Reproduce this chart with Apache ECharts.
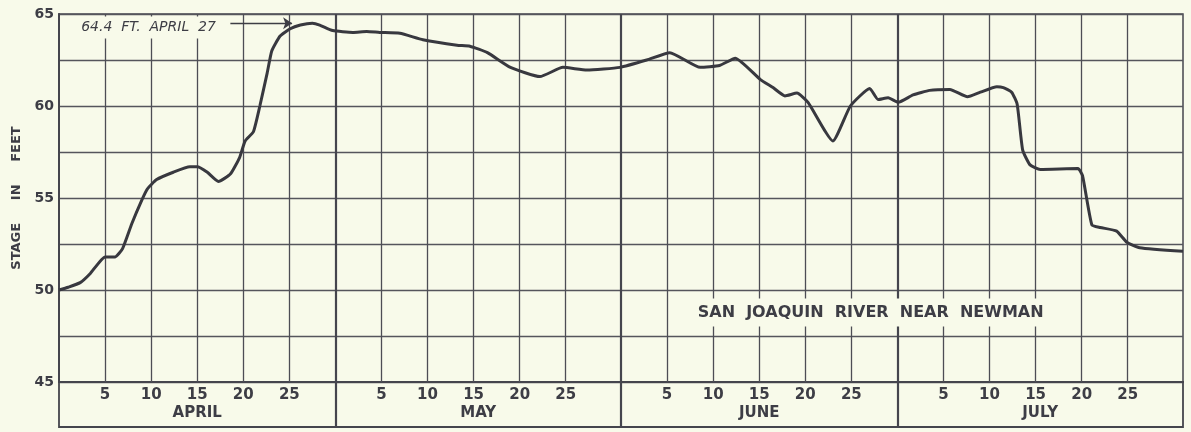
<!DOCTYPE html>
<html><head><meta charset="utf-8">
<script src="https://cdn.jsdelivr.net/npm/echarts@6/dist/echarts.min.js"></script>
<style>html,body{margin:0;padding:0;background:#f8faea}#c{width:1191px;height:432px}</style>
</head><body><div id="c"></div>
<script>
// ---- data ----
const monthNames = ['APRIL', 'MAY', 'JUNE', 'JULY'];
const monthStarts = [0, 30, 61, 91];
const monthLengths = [30, 31, 30, 31];
const dayTickLabels = [5, 10, 15, 20, 25];
const yTickLabels = [45, 50, 55, 60, 65];
const peakNote = '64.4  FT.  APRIL  27';
const stationName = 'SAN  JOAQUIN  RIVER  NEAR  NEWMAN';
const yTitle = 'STAGE     IN     FEET';

// day index counted from March 31 (April 1 = 1), stage in feet
const days = [0.0, 1.0, 2.3, 3.4, 5.0, 6.1, 6.9, 7.9, 9.0, 9.6, 10.6, 12.4, 14.2, 15.0, 16.1, 17.3, 18.6, 19.6, 20.2, 21.1,
  21.8, 22.6, 23.1, 24.0, 25.1, 26.2, 27.5, 28.3, 29.7, 31.9, 33.4, 34.8, 37.0, 39.5, 43.2, 44.6, 46.5, 49.0, 52.2, 54.7,
  57.3, 60.9, 63.8, 66.3, 69.6, 71.7, 73.4, 76.1, 77.5, 78.8, 80.1, 81.3, 84.0, 85.9, 88.0, 88.9, 90.0, 91.1, 92.7, 94.5,
  96.7, 98.6, 100.0, 101.8, 102.5, 103.4, 104.0, 104.6, 105.4, 106.5, 110.6, 111.1, 112.1, 113.0, 114.8, 115.9, 117.3, 122.0];
const stage = [50.0, 50.15, 50.4, 50.9, 51.8, 51.8, 52.25, 53.6, 54.9, 55.5, 56.0, 56.4, 56.7, 56.7, 56.4, 55.9, 56.3, 57.2, 58.1, 58.6,
  60.0, 61.8, 63.0, 63.8, 64.2, 64.4, 64.5, 64.4, 64.1, 64.0, 64.05, 64.0, 63.95, 63.6, 63.3, 63.25, 62.9, 62.1, 61.6, 62.1,
  61.95, 62.1, 62.5, 62.9, 62.1, 62.2, 62.6, 61.45, 61.0, 60.55, 60.7, 60.2, 58.1, 60.0, 60.95, 60.35, 60.45, 60.2, 60.6, 60.85,
  60.9, 60.5, 60.75, 61.05, 61.0, 60.75, 60.1, 57.6, 56.8, 56.55, 56.6, 56.2, 53.55, 53.4, 53.2, 52.6, 52.3, 52.1];

// ---- derived ----
const xMax = monthStarts[monthStarts.length - 1] + monthLengths[monthLengths.length - 1];
const tickPos = [], tickLab = {};
monthStarts.forEach(s => dayTickLabels.forEach(d => { tickPos.push(s + d); tickLab[s + d] = String(d); }));
const monthCenters = monthStarts.map((s, i) => s + monthLengths[i] / 2);
const monthLab = {};
monthCenters.forEach((c, i) => { monthLab[c] = monthNames[i]; });
const curve = days.map((d, i) => [d, stage[i]]);

const BG = '#f8faea', INK = '#45454d', FONT = 'DejaVu Sans';
const chart = echarts.init(document.getElementById('c'), null, { renderer: 'canvas' });
chart.setOption({
  backgroundColor: BG,
  animation: false,
  grid: [
    { left: 59, right: 8, top: 14, height: 368, show: true, borderColor: INK, borderWidth: 1.5, backgroundColor: 'transparent' },
    { left: 59, right: 8, top: 382, height: 45, show: true, borderColor: INK, borderWidth: 1.8, backgroundColor: 'transparent' }
  ],
  xAxis: [
    { type: 'value', gridIndex: 0, min: 0, max: xMax, position: 'bottom',
      axisLine: { show: true, onZero: false, lineStyle: { color: INK, width: 2 } },
      axisTick: { show: false }, splitLine: { show: false },
      axisLabel: { customValues: tickPos, formatter: v => tickLab[v] || '', margin: 6,
        fontFamily: FONT, fontSize: 15, fontWeight: 'bold', color: '#3d3d45' } },
    { type: 'value', gridIndex: 0, min: 0, max: xMax, position: 'bottom', offset: 0,
      axisLine: { show: false }, axisTick: { show: false }, splitLine: { show: false },
      axisLabel: { customValues: monthCenters, formatter: v => monthLab[v] || '', margin: 24,
        fontFamily: FONT, fontSize: 15, fontWeight: 'bold', color: '#3d3d45' } },
    { type: 'value', gridIndex: 1, min: 0, max: xMax, show: false }
  ],
  yAxis: [
    { type: 'value', gridIndex: 0, min: 45, max: 65, interval: 2.5,
      axisLine: { show: true, lineStyle: { color: INK, width: 2 } }, axisTick: { show: false },
      splitLine: { show: true, lineStyle: { color: '#55555c', width: 1.3 } },
      axisLabel: { customValues: yTickLabels, margin: 5, fontFamily: FONT, fontSize: 14, fontWeight: 'bold', color: '#3d3d45' },
      name: yTitle, nameLocation: 'middle', nameGap: 35,
      nameTextStyle: { fontFamily: FONT, fontSize: 13, fontWeight: 'bold', color: '#3d3d45' } },
    { type: 'value', gridIndex: 1, min: 0, max: 1, show: false }
  ],
  series: [
    { type: 'line', xAxisIndex: 0, yAxisIndex: 0, data: [], silent: true, z: 1,
      markLine: { silent: true, symbol: 'none', animation: false, label: { show: false },
        emphasis: { disabled: true },
        lineStyle: { color: '#4d4d55', width: 1.3, type: 'solid' },
        data: tickPos.map(v => ({ xAxis: v }))
          .concat(monthStarts.slice(1).map(v => ({ xAxis: v, lineStyle: { color: INK, width: 2.2, type: 'solid' } }))) } },
    { type: 'line', xAxisIndex: 2, yAxisIndex: 1, data: [], silent: true,
      markLine: { silent: true, symbol: 'none', animation: false, label: { show: false },
        lineStyle: { color: INK, width: 2.2, type: 'solid' },
        data: monthStarts.slice(1).map(v => ({ xAxis: v })) } },
    { type: 'line', name: 'Stage', xAxisIndex: 0, yAxisIndex: 0, data: curve, z: 5,
      smooth: 0.16, showSymbol: false, symbol: 'none', silent: true,
      lineStyle: { color: '#38383f', width: 3 },
      markPoint: { silent: true, animation: false, symbol: 'rect', symbolSize: 0, itemStyle: { color: 'transparent' },
        data: [
          { coord: [9.72, 64.27], label: { show: true, position: 'inside', formatter: peakNote,
              fontFamily: FONT, fontSize: 14, fontStyle: 'italic', color: '#3d3d45',
              backgroundColor: BG, padding: [4, 4] } },
          { coord: [88.1, 48.78], label: { show: true, position: 'inside', formatter: stationName,
              fontFamily: FONT, fontSize: 16, fontWeight: 'bold', color: '#3d3d45',
              backgroundColor: BG, padding: [6, 3] } }
        ] },
      markLine: { silent: true, animation: false, label: { show: false },
        symbol: ['none', 'arrow'], symbolSize: 9,
        lineStyle: { color: '#3d3d45', width: 1.4, type: 'solid' },
        data: [[{ coord: [18.6, 64.5] }, { coord: [25.3, 64.5] }]] } }
  ]
});
</script></body></html>
